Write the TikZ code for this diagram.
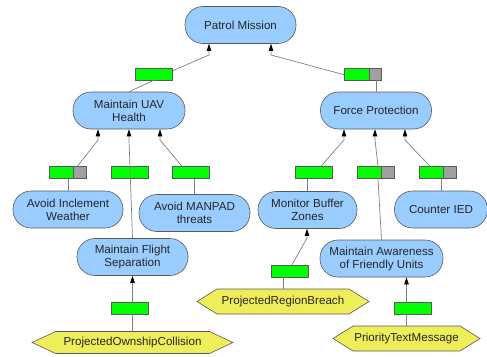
\documentclass[tikz,border=0pt]{standalone}
\usepackage{fontspec}
\setmainfont{Liberation Sans}
\usetikzlibrary{arrows.meta,shapes.symbols}
\definecolor{goalblue}{RGB}{153,204,255}
\definecolor{hexyellow}{RGB}{238,238,90}
\definecolor{edgegray}{RGB}{90,90,90}
\definecolor{wiregray}{RGB}{128,128,128}
\definecolor{okgreen}{RGB}{0,255,0}
\definecolor{offgray}{RGB}{160,160,160}
\tikzset{
  labelfont/.style={font=\fontsize{11.6}{13}\selectfont, text=black!85},
  goal/.style={labelfont, draw=edgegray, line width=0.6pt, fill=goalblue,
    rounded corners=18pt, minimum height=37pt, inner sep=1pt, align=center},
  hexnode/.style={labelfont, signal, signal to=west and east, signal pointer angle=64,
    draw=edgegray, line width=0.6pt, fill=hexyellow, minimum height=25pt, inner sep=1pt},
  bar/.style={draw=edgegray, line width=0.5pt, fill=okgreen,
    minimum width=37pt, minimum height=12pt, inner sep=0pt},
  barpart/.style={bar, path picture={
    \fill[offgray] ([xshift=-12.5pt]path picture bounding box.north east)
      rectangle (path picture bounding box.south east);
    \draw[edgegray, line width=0.5pt] ([xshift=-12.5pt]path picture bounding box.north east)
      -- ([xshift=-12.5pt]path picture bounding box.south east);}},
  wire/.style={draw=wiregray, line width=0.7pt},
  goes/.style={wire, -{Triangle[width=4.5pt,length=7pt,black]}}
}
\begin{document}
\begin{tikzpicture}[x=1pt,y=-1pt]
\useasboundingbox (0,0) rectangle (487,356);

% goals
\node[goal, minimum width=111pt] (pm) at (240.5,25) {Patrol Mission};
\node[goal, minimum width=112pt] (uav) at (129,110.5) {Maintain UAV\\Health};
\node[goal, minimum width=111pt] (fp) at (376,110.5) {Force Protection};
\node[goal, minimum width=110pt] (aiw) at (68,209.5) {Avoid Inclement\\Weather};
\node[goal, minimum width=111pt] (amt) at (194.5,213) {Avoid MANPAD\\threats};
\node[goal, minimum width=111pt] (mfs) at (132.5,257) {Maintain Flight\\Separation};
\node[goal, minimum width=99pt] (mbz) at (307.5,210) {Monitor Buffer\\Zones};
\node[goal, minimum width=93pt] (cied) at (441,209.5) {Counter IED};
\node[goal, minimum width=123pt] (maf) at (381.5,258.5) {Maintain Awareness\\of Friendly Units};

% observations
\node[hexnode, minimum width=172pt] (prb) at (283,301.5) {ProjectedRegionBreach};
\node[hexnode, minimum width=201pt, minimum height=22pt, signal pointer angle=50] (poc) at (132.5,342.5) {ProjectedOwnshipCollision};
\node[hexnode, minimum width=147pt] (ptm) at (406.5,338.5) {PriorityTextMessage};

% knee points of the connectors
\coordinate (kpl) at (209,55);
\coordinate (kpr) at (271,55);
\coordinate (k1) at (98,140);
\coordinate (k2) at (129,140);
\coordinate (k3) at (160,140);
\coordinate (k4) at (344,140);
\coordinate (k5) at (375,140);
\coordinate (k6) at (405,140);
\coordinate (k7) at (307,238);

% status bars
\node[bar] (bpl) at (154,74) {};
\node[barpart] (bpr) at (363,74) {};
\node[barpart] (b1) at (67.5,172.5) {};
\node[bar] (b2) at (129.5,172.5) {};
\node[bar] (b3) at (190.5,172.5) {};
\node[bar] (b4) at (314,172.5) {};
\node[barpart] (b5) at (375.5,172.5) {};
\node[barpart] (b6) at (437.5,172.5) {};
\node[bar] (b7) at (289.5,271) {};
\node[bar] (b8) at (129.5,308) {};
\node[bar] (b9) at (412.5,308) {};

% child to bar
\draw[wire] (bpl.south) -- (uav.north);
\draw[wire] (fp.north) -- (fp.north |- bpr.south);
\draw[wire] (aiw.north) -- (aiw.north |- b1.south);
\draw[wire] (amt.north) -- (amt.north |- b3.south);
\draw[wire] (mbz.north) -- (mbz.north |- b4.south);
\draw[wire] (maf.north) -- ([xshift=2.5pt]b5.south);
\draw[wire] (cied.north) -- (cied.north |- b6.south);
\draw[wire] (prb.north) -- (prb.north |- b7.south);
\draw[wire] (poc.north) -- (poc.north |- b8.south);
\draw[wire] (ptm.north) -- (ptm.north |- b9.south);

% bar to parent
\draw[goes] ([yshift=-3pt]bpl.north east) -- (kpl) -- (kpl |- pm.south);
\draw[goes] ([yshift=-7pt]bpr.north west) -- (kpr) -- (kpr |- pm.south);
\draw[goes] ([xshift=10pt]b1.north) -- (k1) -- (k1 |- uav.south);
\draw[goes] (mfs.north) -- (k2) -- (k2 |- uav.south);
\draw[goes] ([xshift=-8.5pt]b3.north) -- (k3) -- (k3 |- uav.south);
\draw[goes] ([xshift=7pt]b4.north) -- (k4) -- (k4 |- fp.south);
\draw[goes] ([xshift=2.5pt]b5.north) -- (k5) -- (k5 |- fp.south);
\draw[goes] ([xshift=-7.5pt]b6.north) -- (k6) -- (k6 |- fp.south);
\draw[goes] ([xshift=2.5pt]b7.north) -- (k7) -- (k7 |- mbz.south);
\draw[goes] (b8.north -| mfs.south) -- (mfs.south);
\draw[goes] (b9.north -| ptm.north) -- (ptm.north |- maf.south);
\end{tikzpicture}
\end{document}
